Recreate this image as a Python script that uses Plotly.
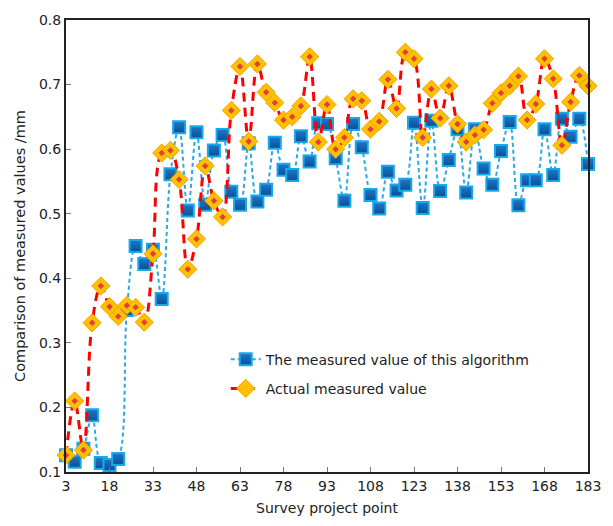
import plotly.graph_objects as go

x_points = list(range(3, 184, 3))

algorithm_values = [
    0.126, 0.116, 0.136, 0.188, 0.114, 0.111, 0.120, 0.351, 0.450, 0.422,
    0.444, 0.368, 0.561, 0.634, 0.505, 0.626, 0.514, 0.598, 0.622, 0.534,
    0.514, 0.609, 0.519, 0.537, 0.610, 0.568, 0.560, 0.620, 0.581, 0.640,
    0.639, 0.586, 0.520, 0.639, 0.603, 0.529, 0.508, 0.565, 0.536, 0.545,
    0.641, 0.509, 0.644, 0.535, 0.583, 0.631, 0.533, 0.631, 0.570, 0.545,
    0.597, 0.642, 0.513, 0.552, 0.552, 0.631, 0.560, 0.647, 0.619, 0.647,
    0.577,
]

actual_values = [
    0.126, 0.210, 0.134, 0.331, 0.388, 0.356, 0.341, 0.358, 0.355, 0.332,
    0.438, 0.594, 0.598, 0.553, 0.414, 0.461, 0.574, 0.520, 0.495, 0.660,
    0.728, 0.612, 0.732, 0.688, 0.672, 0.645, 0.650, 0.667, 0.743, 0.611,
    0.669, 0.600, 0.618, 0.678, 0.675, 0.631, 0.643, 0.708, 0.663, 0.750,
    0.740, 0.618, 0.693, 0.648, 0.698, 0.639, 0.611, 0.622, 0.630, 0.671,
    0.687, 0.698, 0.713, 0.645, 0.670, 0.740, 0.709, 0.606, 0.673, 0.714,
    0.698,
]

x_tick_values = list(range(3, 184, 15))
series_names = ["The measured value of this algorithm", "Actual measured value"]

FONT = "Verdana, DejaVu Sans, sans-serif"

fig = go.Figure()

fig.add_trace(go.Scatter(
    x=x_points, y=algorithm_values, name=series_names[0],
    mode="lines+markers", legendgroup="a",
    line=dict(color="#29A9E6", width=2, dash="4px,3px", shape="spline", smoothing=1),
    marker=dict(symbol="square", size=12, color="#1F78C8",
                gradient=dict(type="vertical", color="#0A4E94"),
                line=dict(color="#18A8EC", width=2)),
    cliponaxis=False,
))

fig.add_trace(go.Scatter(
    x=x_points, y=actual_values, name=series_names[1],
    mode="lines+markers", legendgroup="b",
    line=dict(color="#FF0000", width=3, dash="9px,6px", shape="spline", smoothing=1),
    marker=dict(symbol="diamond", size=14, color="#FFC000",
                line=dict(color="#F5A400", width=1)),
    cliponaxis=False,
))

fig.add_trace(go.Scatter(
    x=x_points, y=actual_values, mode="markers", legendgroup="b",
    showlegend=False, hoverinfo="skip",
    marker=dict(symbol="diamond", size=5, color="#E0403A"),
    cliponaxis=False,
))

fig.update_layout(
    width=613, height=526,
    margin=dict(l=66, r=15, t=12, b=52),
    paper_bgcolor="white", plot_bgcolor="white",
    font=dict(family=FONT, size=14, color="#222222"),
    showlegend=True,
    legend=dict(x=0.306, y=0.284, xanchor="left", yanchor="top",
                bgcolor="rgba(0,0,0,0)", font=dict(family=FONT, size=14, color="#222222"),
                tracegroupgap=8),
    xaxis=dict(range=[3, 183], tickvals=x_tick_values, ticks="inside", ticklen=5,
               tickcolor="#777777", tickwidth=1, showline=True, linecolor="#222222",
               linewidth=2, mirror=True, showgrid=False, zeroline=False,
               title=dict(text="Survey project point", font=dict(size=14), standoff=10),
               tickfont=dict(size=14)),
    yaxis=dict(range=[0.1, 0.8], dtick=0.1, tick0=0.1, tickformat=".1f", ticks="inside",
               ticklen=5, tickcolor="#777777", tickwidth=1, showline=True,
               linecolor="#222222", linewidth=2, mirror=True, showgrid=False,
               zeroline=False,
               title=dict(text="Comparison of measured values /mm", font=dict(size=14.5),
                          standoff=10),
               tickfont=dict(size=14)),
)

fig.write_html("out.html")
